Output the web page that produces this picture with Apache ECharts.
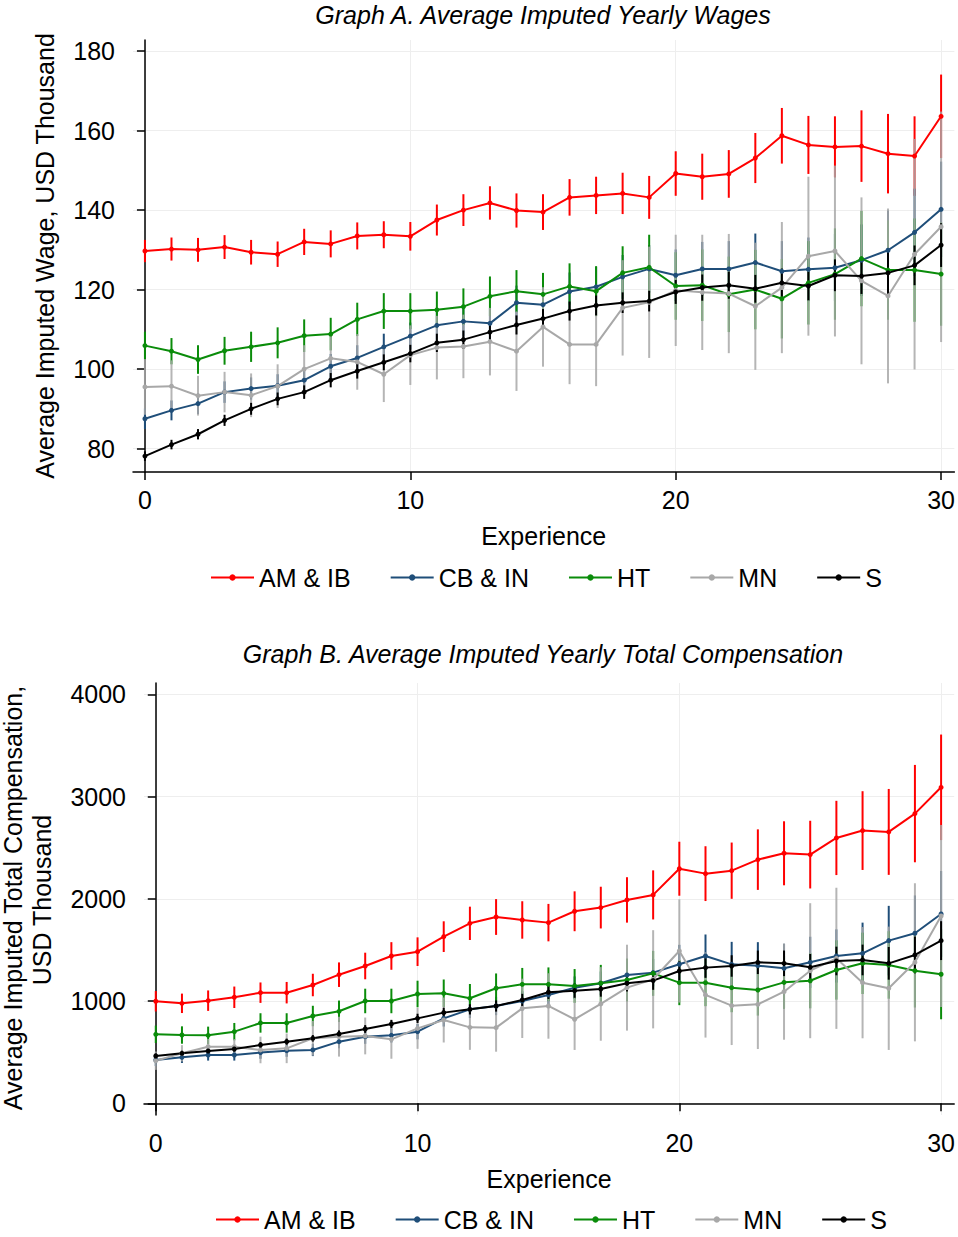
<!DOCTYPE html>
<html>
<head>
<meta charset="utf-8">
<title>Imputed wages and compensation by experience</title>
<script src="https://cdn.jsdelivr.net/npm/echarts@6/dist/echarts.min.js"></script>
<style>
html, body { margin: 0; padding: 0; background: #fff; }
#main { width: 958px; height: 1237px; }
</style>
</head>
<body>
<div id="main"></div>
<script>
// years of experience (x values)
var expYears = [0,1,2,3,4,5,6,7,8,9,10,11,12,13,14,15,16,17,18,19,20,21,22,23,24,25,26,27,28,29,30];
var groups = ['AM & IB', 'CB & IN', 'HT', 'MN', 'S'];
var xTicks = [0, 10, 20, 30];
var wageTicks = [80, 100, 120, 140, 160, 180];
var compTicks = [0, 1000, 2000, 3000, 4000];

// Graph A: wages (USD thousand), mean and half-width of the bar
var wageAM    = [129.7,130.2,130.0,130.7,129.4,128.9,132.0,131.5,133.5,133.8,133.4,137.5,140.0,141.8,139.9,139.5,143.2,143.7,144.2,143.2,149.2,148.4,149.1,153.1,158.7,156.4,155.9,156.1,154.2,153.6,163.6];
var wageAMerr = [2.8,2.9,3.0,3.0,3.1,3.2,3.3,3.4,3.4,3.4,3.6,3.9,4.0,4.2,4.3,4.5,4.6,4.7,5.2,5.4,5.6,5.8,6.0,6.3,7.0,7.3,7.7,9.0,10.0,10.0,10.5];
var wageCB    = [87.5,89.6,91.3,94.2,95.1,95.8,97.2,100.7,102.8,105.6,108.3,111.0,112.0,111.5,116.7,116.2,119.5,120.7,123.2,125.2,123.6,125.2,125.2,126.8,124.6,125.1,125.5,127.4,129.9,134.4,140.2];
var wageCBerr = [2.6,2.5,2.6,2.7,2.8,2.9,3.0,3.1,3.2,3.3,3.4,3.6,3.8,4.0,4.3,4.5,4.8,5.0,5.5,6.0,6.5,6.8,7.0,7.3,7.6,8.0,8.5,9.0,10.0,11.0,12.0];
var wageHT    = [105.9,104.5,102.4,104.6,105.6,106.6,108.4,108.8,112.5,114.6,114.6,114.9,115.7,118.3,119.6,118.8,120.8,119.6,124.2,125.6,120.9,121.1,118.8,120.0,117.7,121.7,123.9,127.8,124.9,124.9,123.9];
var wageHTerr = [3.5,3.3,3.6,3.5,3.8,3.9,4.1,4.1,4.2,4.5,4.5,4.6,4.6,5.0,5.3,5.4,5.8,6.3,6.7,8.2,8.5,9.0,9.5,10.0,10.0,10.5,11.5,12.0,12.5,13.0,13.0];
var wageMN    = [95.5,95.7,93.3,94.2,93.4,95.7,100.0,102.7,101.8,98.7,103.5,105.4,105.7,106.9,104.5,110.6,106.2,106.2,115.4,116.8,119.8,119.3,119.0,115.8,120.5,128.4,129.7,122.2,118.4,128.9,135.8];
var wageMNerr = [7.0,6.5,5.0,5.1,5.5,5.5,6.0,6.0,7.0,7.0,7.5,8.0,8.0,8.5,10.0,10.0,10.0,10.5,12.0,14.0,14.0,14.5,15.0,16.0,16.5,20.0,21.5,21.0,22.0,29.0,29.0];
var wageS     = [78.1,81.0,83.6,87.1,90.0,92.5,94.2,97.2,99.5,101.7,103.9,106.6,107.4,109.3,111.1,112.7,114.6,116.0,116.7,117.1,119.4,120.5,121.1,120.2,121.7,120.9,123.6,123.4,124.2,126.1,131.2];
var wageSerr  = [1.2,1.2,1.3,1.4,1.5,1.6,1.7,1.8,1.9,2.0,2.2,2.3,2.3,2.4,2.4,2.4,2.4,2.5,2.6,2.6,3.0,3.3,3.4,3.5,3.6,3.6,4.0,4.5,6.0,5.0,5.5];

// Graph B: total compensation (USD thousand)
var compAM    = [998,978,1004,1037,1082,1082,1157,1258,1343,1441,1483,1630,1760,1822,1793,1767,1878,1914,1989,2038,2294,2246,2275,2383,2445,2432,2595,2667,2654,2833,3090];
var compAMerr = [100,95,100,105,100,105,110,120,130,135,140,150,163,175,183,183,195,204,222,240,264,268,275,296,313,331,363,385,420,476,516];
var compCB    = [424,450,473,473,496,515,522,603,652,665,701,831,919,952,1001,1060,1131,1174,1255,1278,1360,1441,1359,1346,1320,1379,1441,1467,1591,1663,1852];
var compCBerr = [60,55,55,55,60,60,60,65,70,70,75,80,85,90,95,100,110,115,125,135,190,210,220,230,240,250,260,300,340,370,420];
var compHT    = [675,668,665,701,786,786,854,900,1001,1001,1069,1076,1027,1125,1164,1164,1148,1174,1206,1271,1180,1180,1131,1108,1183,1199,1304,1369,1353,1297,1262];
var compHTerr = [85,85,85,85,95,95,100,105,120,120,130,135,140,145,160,165,165,180,210,220,220,230,240,250,260,270,290,300,330,360,440];
var compMN    = [417,489,554,554,522,538,636,652,659,626,733,815,743,740,929,952,822,972,1131,1213,1490,1060,955,968,1092,1297,1418,1180,1125,1379,1832];
var compMNerr = [90,80,75,75,130,145,170,195,180,190,200,220,220,235,290,320,300,360,420,480,505,417,385,437,470,660,690,544,603,773,890];
var compS     = [463,489,512,531,571,603,636,678,727,776,831,887,919,952,1011,1086,1102,1118,1174,1200,1294,1327,1343,1379,1369,1330,1392,1402,1369,1451,1591];
var compSerr  = [25,25,25,25,28,30,32,35,38,40,45,48,50,55,60,65,70,75,80,90,95,100,105,115,125,130,140,150,160,180,190];

var FONT = 'Liberation Sans, Arial, Helvetica, sans-serif';
var FS = 25;
var colors = ['#ff0000', '#1f4e79', '#0a8c0a', '#a8a8a8', '#000000'];
var barOpacity = [1, 1, 1, 0.85, 1];

var panels = [
    { means: [wageAM, wageCB, wageHT, wageMN, wageS], errs: [wageAMerr, wageCBerr, wageHTerr, wageMNerr, wageSerr] },
    { means: [compAM, compCB, compHT, compMN, compS], errs: [compAMerr, compCBerr, compHTerr, compMNerr, compSerr] }
];

var myChart = echarts.init(document.getElementById('main'), null, { renderer: 'svg' });

function ciSeries(p, k) {
    var mean = panels[p].means[k], err = panels[p].errs[k];
    var col = colors[k], op = barOpacity[k];
    return {
        type: 'custom',
        name: groups[k] + ' ci',
        xAxisIndex: p,
        yAxisIndex: p,
        silent: true,
        animation: false,
        data: expYears.map(function (x, i) { return [x, mean[i] - err[i], mean[i] + err[i]]; }),
        encode: { x: 0, y: [1, 2] },
        renderItem: function (params, api) {
            var lo = api.coord([api.value(0), api.value(1)]);
            var hi = api.coord([api.value(0), api.value(2)]);
            return {
                type: 'line',
                shape: { x1: lo[0], y1: lo[1], x2: hi[0], y2: hi[1] },
                style: { stroke: col, lineWidth: 2, opacity: op }
            };
        }
    };
}

function lineSeries(p, k) {
    var mean = panels[p].means[k];
    return {
        type: 'line',
        name: groups[k],
        xAxisIndex: p,
        yAxisIndex: p,
        animation: false,
        symbol: 'circle',
        symbolSize: 5,
        showSymbol: true,
        data: expYears.map(function (x, i) { return [x, mean[i]]; }),
        lineStyle: { color: colors[k], width: 2 },
        itemStyle: { color: colors[k] }
    };
}

var series = [];
for (var p = 0; p < 2; p++) {
    for (var k = 0; k < 5; k++) {
        series.push(ciSeries(p, k));
        series.push(lineSeries(p, k));
    }
}

function xAxisCfg(gi) {
    return {
        type: 'value',
        gridIndex: gi,
        min: -0.45,
        max: 30.5,
        name: 'Experience',
        nameLocation: 'middle',
        nameGap: 51,
        nameTextStyle: { fontFamily: FONT, fontSize: FS, color: '#000' },
        axisLine: { show: true, lineStyle: { color: '#000', width: 1.5 } },
        axisTick: { show: true, inside: false, length: 8, customValues: xTicks, lineStyle: { color: '#000', width: 1.5 } },
        axisLabel: { customValues: xTicks, margin: 15, fontFamily: FONT, fontSize: FS, color: '#000' },
        splitLine: { show: true, lineStyle: { color: '#eeeeee', width: 1 } }
    };
}

function yAxisCfg(gi, min, max, ticks) {
    return {
        type: 'value',
        gridIndex: gi,
        min: min,
        max: max,
        axisLine: { show: true, lineStyle: { color: '#000', width: 1.5 } },
        axisTick: { show: true, inside: false, length: 8, customValues: ticks, lineStyle: { color: '#000', width: 1.5 } },
        axisLabel: {
            customValues: ticks, margin: 18, fontFamily: FONT, fontSize: FS, color: '#000',
            formatter: function (v) { return String(v); }
        },
        splitLine: { show: true, lineStyle: { color: '#eeeeee', width: 1 } }
    };
}

function legendCfg(left, top) {
    return {
        data: groups,
        left: left,
        top: top,
        itemWidth: 43,
        itemHeight: 8,
        itemGap: 39,
        selectedMode: false,
        textStyle: { fontFamily: FONT, fontSize: FS, color: '#000' }
    };
}

function label(text, x, y, opts) {
    return {
        type: 'text',
        x: x,
        y: y,
        rotation: opts.rotate ? Math.PI / 2 : 0,
        style: {
            text: text,
            fill: '#000',
            font: (opts.italic ? 'italic ' : '') + FS + 'px ' + FONT,
            textAlign: 'center',
            textVerticalAlign: 'middle'
        }
    };
}

var option = {
    backgroundColor: '#ffffff',
    animation: false,
    grid: [
        { left: 133, top: 40, width: 822, height: 432 },
        { left: 144, top: 683, width: 811, height: 432 }
    ],
    xAxis: [xAxisCfg(0), xAxisCfg(1)],
    yAxis: [
        yAxisCfg(0, 74.1, 182.8, wageTicks),
        yAxisCfg(1, -114, 4110, compTicks)
    ],
    legend: [legendCfg(205, 560), legendCfg(210, 1202)],
    graphic: [
        label('Graph A. Average Imputed Yearly Wages', 543, 15, { italic: true }),
        label('Graph B. Average Imputed Yearly Total Compensation', 543, 654, { italic: true }),
        label('Average Imputed Wage, USD Thousand', 45, 256, { rotate: true }),
        label('Average Imputed Total Compensation,', 13, 898, { rotate: true }),
        label('USD Thousand', 42, 900, { rotate: true })
    ],
    series: series
};

myChart.setOption(option);
</script>
</body>
</html>
